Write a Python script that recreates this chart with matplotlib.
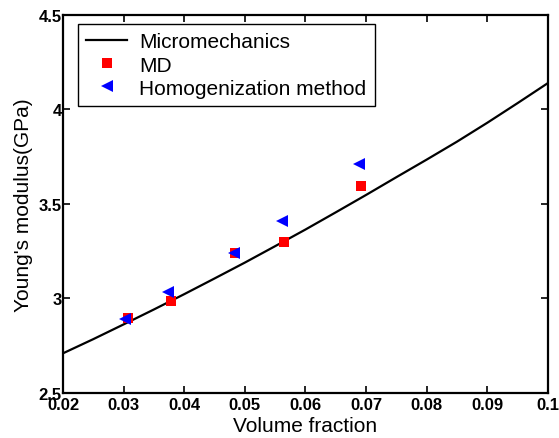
import numpy as np
import matplotlib
matplotlib.use('Agg')
import matplotlib.pyplot as plt

# Micromechanics curve
vf_curve = [0.02, 0.025, 0.03, 0.035, 0.04, 0.045, 0.05, 0.055, 0.06,
            0.065, 0.07, 0.075, 0.08, 0.085, 0.09, 0.095, 0.10]
E_curve = [2.71, 2.785, 2.863, 2.942, 3.023, 3.106, 3.19, 3.277, 3.365,
           3.456, 3.548, 3.642, 3.735, 3.83, 3.93, 4.034, 4.14]

# MD results
vf_md = [0.0307, 0.0378, 0.0484, 0.0565, 0.0692]
E_md = [2.897, 2.987, 3.24, 3.297, 3.594]

# Homogenization method
vf_hom = [0.0303, 0.0373, 0.0482, 0.0562, 0.0689]
E_hom = [2.89, 3.033, 3.24, 3.41, 3.71]

xticks = [0.02, 0.03, 0.04, 0.05, 0.06, 0.07, 0.08, 0.09, 0.10]
xticklabels = ['0.02', '0.03', '0.04', '0.05', '0.06', '0.07', '0.08', '0.09', '0.1']
yticks = [2.5, 3.0, 3.5, 4.0, 4.5]
yticklabels = ['2.5', '3', '3.5', '4', '4.5']

plt.rcParams['font.family'] = ['Liberation Sans', 'DejaVu Sans']

fig = plt.figure(figsize=(5.59, 4.39), dpi=100)
ax = fig.add_axes([0.1127, 0.1025, 0.8676, 0.8611])

ax.plot(vf_curve, E_curve, 'k-', linewidth=1.6, label='Micromechanics')
ax.plot(vf_md, E_md, 's', color='red', markersize=7, markeredgewidth=0, label='MD')
ax.plot(vf_hom, E_hom, '<', color='blue', markersize=8, markeredgewidth=0,
        label='Homogenization method')

ax.set_xlim(0.02, 0.1)
ax.set_ylim(2.5, 4.5)
ax.set_xticks(xticks)
ax.set_xticklabels(xticklabels, fontweight='bold', fontsize=12)
ax.set_yticks(yticks)
ax.set_yticklabels(yticklabels, fontweight='bold', fontsize=12)
ax.tick_params(direction='in', top=True, right=True, length=5, width=1.2)
ax.tick_params(axis='x', pad=3)
ax.tick_params(axis='y', pad=1)
for s in ax.spines.values():
    s.set_linewidth(1.6)

ax.set_xlabel('Volume fraction', fontsize=15, labelpad=3)
ax.set_ylabel("Young's modulus(GPa)", fontsize=15, labelpad=4)

leg = ax.legend(loc='upper left', bbox_to_anchor=(0.031, 0.976), borderaxespad=0,
                fontsize=15, frameon=True, fancybox=False, edgecolor='black',
                framealpha=1, handlelength=1.95, borderpad=0.4, labelspacing=0.2,
                handletextpad=0.6, numpoints=1)
leg.get_frame().set_linewidth(1.0)

fig.savefig('out.png', dpi=100)
